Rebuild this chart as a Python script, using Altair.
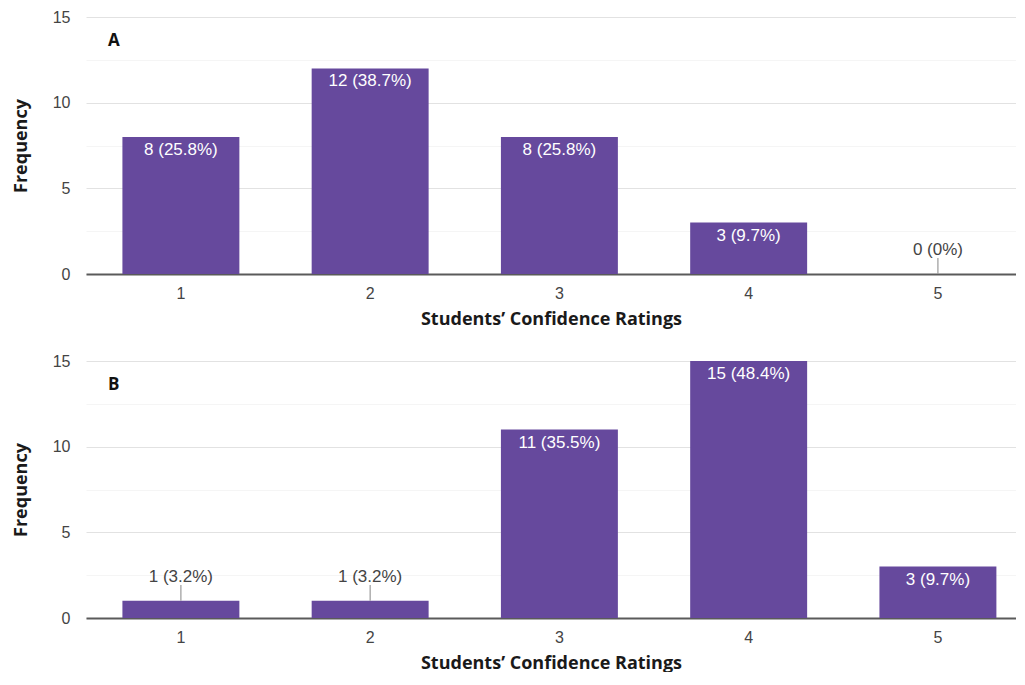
import altair as alt
import pandas as pd

ratings = ["1", "2", "3", "4", "5"]
counts_a = [8, 12, 8, 3, 0]
pcts_a = ["25.8%", "38.7%", "25.8%", "9.7%", "0%"]
counts_b = [1, 1, 11, 15, 3]
pcts_b = ["3.2%", "3.2%", "35.5%", "48.4%", "9.7%"]
y_values = [0, 2.5, 5, 7.5, 10, 12.5, 15]

BAR = "#66499d"
W, H = 930, 257


def panel(letter, counts, pcts, title_pad):
    df = pd.DataFrame({
        "rating": ratings,
        "count": counts,
        "label": [f"{c} ({p})" for c, p in zip(counts, pcts)],
    })
    base = alt.Chart(df)
    x = alt.X("rating:N", sort=ratings,
              scale=alt.Scale(paddingInner=0.382, paddingOuter=0.148, align=0.65),
              axis=alt.Axis(title="Students’ Confidence Ratings", labelAngle=0,
                            ticks=False, grid=False, domainColor="#5a5a5a", domainWidth=2,
                            labelFont="Liberation Sans", labelFontSize=16, labelColor="#444",
                            labelPadding=11, titleFont="Open Sans", titleFontSize=18,
                            titleFontWeight="bold", titleColor="#1a1a1a",
                            titlePadding=title_pad))
    y = alt.Y("count:Q", scale=alt.Scale(domain=[0, 15], nice=False),
              axis=alt.Axis(title="Frequency", values=y_values,
                            labelExpr="datum.value % 5 === 0 ? datum.label : ''",
                            gridColor={"condition": {"test": "datum.value % 5 === 0", "value": "#e2e2e2"},
                                       "value": "#f5f5f5"},
                            domain=False, ticks=False,
                            labelFont="Liberation Sans", labelFontSize=16, labelColor="#444",
                            labelPadding=16, titleFont="Open Sans", titleFontSize=18,
                            titleFontWeight="bold", titleColor="#1a1a1a", titlePadding=22))
    bars = base.mark_bar(color=BAR).encode(x=x, y=y)
    inside = base.transform_filter("datum.count >= 2").mark_text(
        color="white", font="Liberation Sans", fontSize=17, baseline="middle", dy=13
    ).encode(x=alt.X("rating:N", sort=ratings), y="count:Q", text="label:N")
    outside = base.transform_filter("datum.count < 2").mark_text(
        color="#444", font="Liberation Sans", fontSize=17, baseline="middle", dy=-24
    ).encode(x=alt.X("rating:N", sort=ratings), y="count:Q", text="label:N")
    leader = base.transform_filter("datum.count < 2").transform_calculate(
        top="datum.count + 0.93"
    ).mark_rule(color="#9a9a9a", strokeWidth=1.2).encode(
        x=alt.X("rating:N", sort=ratings), y="count:Q", y2="top:Q")
    tag = alt.Chart(alt.Data(values=[{"p": letter}])).mark_text(
        font="Open Sans", fontWeight="bold", fontSize=17, color="#111",
        align="left", baseline="middle"
    ).encode(x=alt.value(22), y=alt.value(24), text="p:N")
    return alt.layer(bars, inside, outside, leader, tag).properties(width=W, height=H)


chart = alt.vconcat(
    panel("A", counts_a, pcts_a, 9),
    panel("B", counts_b, pcts_b, 9),
    spacing=25,
).properties(padding={"left": 4, "top": 1, "right": 0, "bottom": 0}).configure_view(stroke=None)

chart.save("out.html", embed_options={"renderer": "svg", "actions": False})
